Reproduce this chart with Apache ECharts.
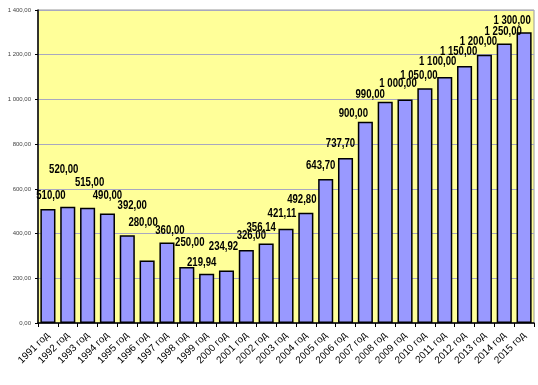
<!DOCTYPE html>
<html>
<head>
<meta charset="utf-8">
<script src="https://cdn.jsdelivr.net/npm/echarts@6/dist/echarts.min.js"></script>
<style>
html,body{margin:0;padding:0;background:#fff;}
#chart{width:538px;height:385px;}
</style>
</head>
<body>
<div id="chart"></div>
<script>
const categories = ['1991 год','1992 год','1993 год','1994 год','1995 год','1996 год','1997 год','1998 год','1999 год','2000 год','2001 год','2002 год','2003 год','2004 год','2005 год','2006 год','2007 год','2008 год','2009 год','2010 год','2011 год','2012 год','2013 год','2014 год','2015 год'];
const values = [510, 520, 515, 490, 392, 280, 360, 250, 219.94, 234.92, 326, 356.14, 421.11, 492.8, 643.7, 737.7, 900, 990, 1000, 1050, 1100, 1150, 1200, 1250, 1300];
const yMin = 0, yMax = 1400, yStep = 200;
// label nudges (style only), relative to the bar-top anchor
const labelNudge = [[3,-7],[-4,-31],[2,-19],[0,-12],[5,-24],[-4,-32],[3,-6],[3,-18],[-5,-5],[-3,-18],[5,-8],[-5,-10],[-4,-9],[-4,-7],[-5,-7],[-5,-8],[-12,-2],[-15,-1],[-7,-10],[-6,-7],[-7,-9],[-6,-8],[-6,-7],[-1,-6],[-12,-6]];

function fmt(v){
  const s = Number(v).toFixed(2);
  let parts = s.split('.');
  const i = parts[0].replace(/\B(?=(\d{3})+(?!\d))/g, ' ');
  return i + ',' + parts[1];
}

const chart = echarts.init(document.getElementById('chart'), null, {renderer:'canvas'});
chart.setOption({
  animation: false,
  backgroundColor: '#ffffff',
  grid: {left: 38, right: 4, top: 10, bottom: 62, show: true, backgroundColor: '#ffff99', borderColor: '#999999', borderWidth: 1},
  xAxis: {
    type: 'category',
    data: categories,
    boundaryGap: true,
    axisLine: {show: true, lineStyle: {color: '#000', width: 1.5}},
    axisTick: {show: true, alignWithLabel: false, length: 4, lineStyle: {color: '#000'}},
    axisLabel: {rotate: 45, interval: 0, fontSize: 10, color: '#000', margin: 11, fontFamily: 'Arial, "Liberation Sans", sans-serif'}
  },
  yAxis: {
    type: 'value',
    min: yMin, max: yMax, interval: yStep,
    axisLine: {show: true, lineStyle: {color: '#000', width: 1.5}},
    axisTick: {show: true, length: 3, lineStyle: {color: '#000'}},
    axisLabel: {fontSize: 6, color: '#444', margin: 7, formatter: fmt, fontFamily: 'Arial, "Liberation Sans", sans-serif'},
    splitLine: {show: true, lineStyle: {color: '#a8a8c0', width: 1}}
  },
  series: [{
    type: 'bar',
    data: values,
    barCategoryGap: '24%',
    itemStyle: {color: '#9999ff', borderColor: '#000', borderWidth: 1.5}
  }, {
    type: 'custom',
    z: 10,
    data: values.map((v, i) => [i, v]),
    renderItem: function (params, api) {
      const idx = params.dataIndex;
      const v = api.value(1);
      const pt = api.coord([api.value(0), v]);
      const n = labelNudge[idx] || [0, 0];
      return {
        type: 'text',
        x: pt[0] + n[0],
        y: pt[1] + n[1],
        scaleX: 0.8,
        style: {
          text: fmt(v),
          x: 0, y: 0,
          align: 'center', textAlign: 'center',
          verticalAlign: 'bottom', textVerticalAlign: 'bottom',
          font: 'bold 12px "Liberation Sans", Arial, sans-serif',
          fill: '#000'
        }
      };
    }
  }]
});
</script>
</body>
</html>
